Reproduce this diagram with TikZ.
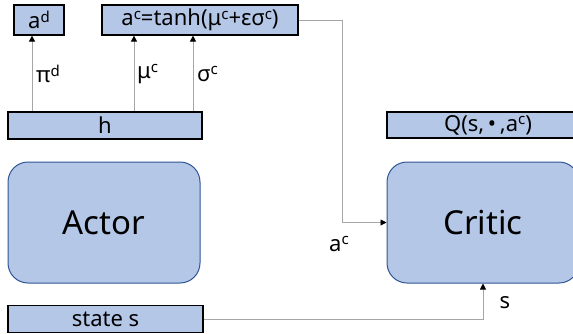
\documentclass[tikz,border=0pt]{standalone}
\usepackage{fontspec}
\setmainfont{Noto Sans}
\usetikzlibrary{arrows.meta,calc}
\definecolor{boxfill}{HTML}{B4C7E7}
\definecolor{boxedge}{HTML}{2F5597}
\definecolor{linegray}{HTML}{A6A6A6}
\newcommand{\sups}[1]{\raisebox{0.55ex}{\fontsize{15}{15}\selectfont #1}}
\begin{document}
\begin{tikzpicture}[x=1pt,y=-1pt,
  bar/.style={draw=black,fill=boxfill,line width=1.2pt,inner sep=0pt,minimum height=#1},
  bar/.default=27pt,
  big/.style={draw=boxedge,fill=boxfill,line width=1pt,rounded corners=20pt,minimum width=192pt,minimum height=121pt,font=\fontsize{33}{36}\selectfont},
  conn/.style={draw=linegray,line width=0.9pt},
  arr/.style={conn,-{Triangle[black,length=6pt,width=6pt]}},
  lab/.style={font=\fontsize{22}{24}\selectfont,inner sep=0pt},
  every node/.style={font=\fontsize{22}{24}\selectfont}]
\useasboundingbox (0,0) rectangle (573,333);
\clip (0,0) rectangle (573,333);
\node[bar=30pt,minimum width=50pt] (ad) at (39,20) {a\sups{d}};
\node[bar=30pt,minimum width=196pt] (ac) at (200,20) {a\sups{c}=tanh(μ\sups{c}+εσ\sups{c})};
\node[bar,minimum width=194pt] (h) at (105,125.5) {h};
\node[bar=26pt,minimum width=202pt] (q) at (488,125) {Q(s,\,•\,,a\sups{c})};
\node[big] (actor) at (104,222.5) {Actor};
\node[big] (critic) at (483,222.5) {Critic};
\node[bar,minimum width=195pt] (st) at (105.5,319) {state s};
\coordinate (xpd) at (32,0);
\coordinate (xmu) at (134,0);
\coordinate (xsg) at (193,0);
\coordinate (bend1) at (342,0);
\coordinate (xs) at (483,0);
\draw[arr] (h.north -| xpd) -- (ad.south -| xpd);
\draw[arr] (h.north -| xmu) -- (ac.south -| xmu);
\draw[arr] (h.north -| xsg) -- (ac.south -| xsg);
\draw[arr] (ac.east) -- (ac.east -| bend1) -- (critic.west -| bend1) -- (critic.west);
\draw[arr] (st.east) -- (st.east -| xs) -- (critic.south -| xs);
\node[lab,anchor=west] (lpd) at (36,74) {π\sups{d}};
\node[lab,anchor=west] (lmu) at (137,74) {μ\sups{c}};
\node[lab,anchor=west] (lsg) at (197,74) {σ\sups{c}};
\node[lab] (lac) at (339,244) {a\sups{c}};
\node[lab] (ls) at (505,303) {s};
\end{tikzpicture}
\end{document}
